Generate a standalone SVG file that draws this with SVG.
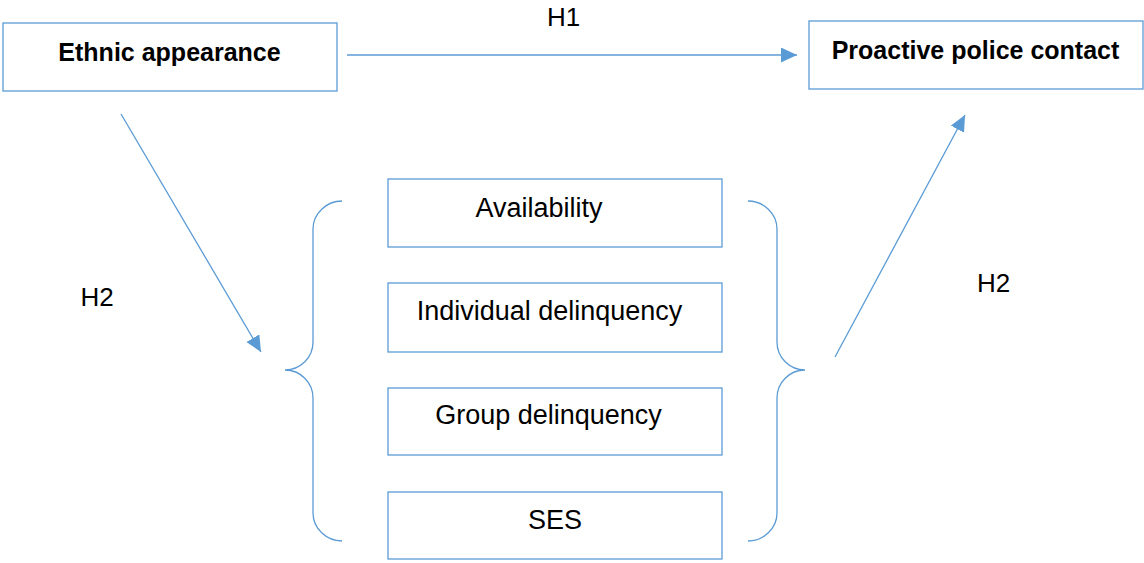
<svg xmlns="http://www.w3.org/2000/svg" width="1144" height="563" viewBox="0 0 1144 563">
<style>
.box{fill:#fff;stroke:#5B9BD5;stroke-width:1.3}
.ln{fill:none;stroke:#5B9BD5;stroke-width:1.3}
.t{font-family:"Liberation Sans",Arial,sans-serif;font-size:27px;fill:#000;text-anchor:middle}
.h{font-size:26px}
.b{font-weight:bold;font-size:25px}
</style>
<defs>
<marker id="ah" markerUnits="userSpaceOnUse" markerWidth="17" markerHeight="16" refX="16" refY="7.5" orient="auto">
<path d="M0,0 L16,7.5 L0,15 z" fill="#5B9BD5"/>
</marker>
</defs>
<rect width="1144" height="563" fill="#fff"/>
<g id="connectors">
<line class="ln" x1="347" y1="55" x2="797" y2="55" marker-end="url(#ah)"/>
<line class="ln" x1="121" y1="114" x2="261" y2="352" marker-end="url(#ah)"/>
<line class="ln" x1="835" y1="357" x2="965" y2="115" marker-end="url(#ah)"/>
<path class="ln" d="M342,201 C326.5,201 313,213.5 313,229 L313,342 C313,357.5 300.5,370 285,370 C300.5,370 313,382.5 313,398 L313,513 C313,528.5 326.5,541 342,541"/>
<path class="ln" d="M748,201 C763.5,201 777,213.5 777,229 L777,342 C777,357.5 789.5,370 805,370 C789.5,370 777,382.5 777,398 L777,513 C777,528.5 763.5,541 748,541"/>
<text class="t h" x="563.5" y="26">H1</text>
<text class="t h" x="97" y="306">H2</text>
<text class="t h" x="993.5" y="292">H2</text>
</g>
<g id="ethnic">
<rect class="box" x="3" y="23" width="334" height="68"/>
<text class="t b" x="169.5" y="61">Ethnic appearance</text>
</g>
<g id="proactive">
<rect class="box" x="809" y="21" width="334" height="68"/>
<text class="t b" x="975.5" y="59">Proactive police contact</text>
</g>
<g id="availability">
<rect class="box" x="388" y="179" width="334" height="68"/>
<text class="t" x="539" y="217">Availability</text>
</g>
<g id="individual">
<rect class="box" x="388" y="283" width="334" height="69"/>
<text class="t" x="549.5" y="320">Individual delinquency</text>
</g>
<g id="group">
<rect class="box" x="388" y="388" width="334" height="67"/>
<text class="t" x="548.5" y="424">Group delinquency</text>
</g>
<g id="ses">
<rect class="box" x="388" y="492" width="334" height="67"/>
<text class="t" x="555" y="529">SES</text>
</g>
</svg>
